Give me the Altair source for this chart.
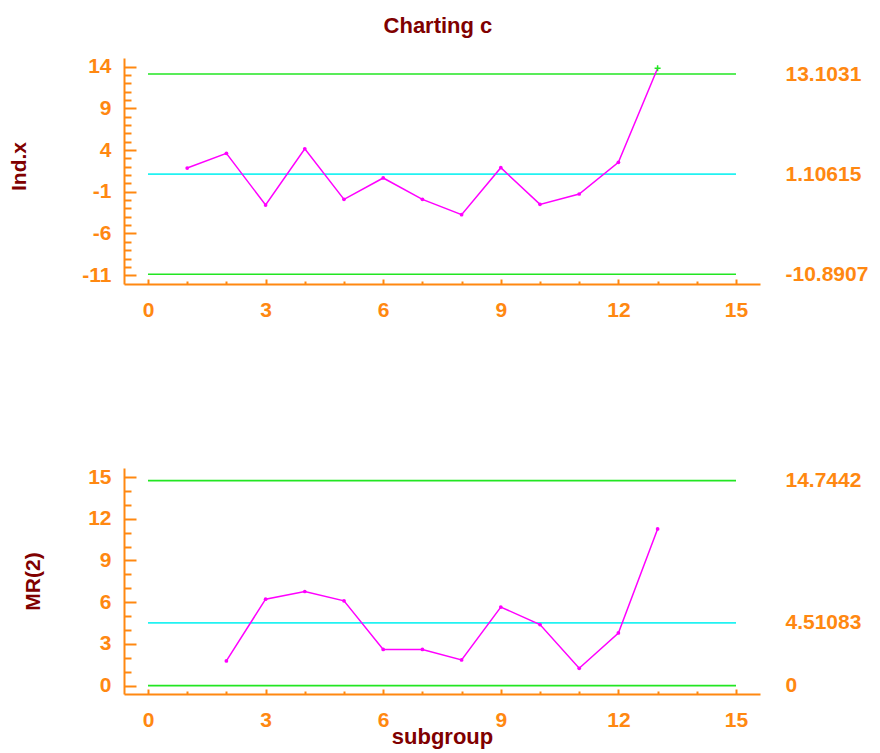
import altair as alt
import pandas as pd

# ---------------- data ----------------
ind_subgroups = list(range(1, 14))
ind_values = [1.84, 3.60, -2.59, 4.15, -1.91, 0.65, -1.91, -3.75, 1.88, -2.51, -1.27, 2.52, 13.79]

mr_subgroups = list(range(2, 14))
mr_values = [1.78, 6.22, 6.77, 6.10, 2.60, 2.60, 1.85, 5.65, 4.39, 1.25, 3.79, 11.27]

ind_limit_names = ["LCL", "CL", "UCL"]
ind_limit_values = [-10.8907, 1.10615, 13.1031]
mr_limit_names = ["LCL", "CL", "UCL"]
mr_limit_values = [0.0, 4.51083, 14.7442]
limit_kinds = ["limit", "center", "limit"]
line_start = 0
line_end = 15

x_major = [0, 3, 6, 9, 12, 15]
x_minor = [v for v in range(0, 16) if v not in x_major]
ind_major = [-11, -6, -1, 4, 9, 14]
ind_minor = [v for v in range(-10, 14) if v not in ind_major]
mr_major = [0, 3, 6, 9, 12, 15]
mr_minor = [v for v in range(0, 16) if v not in mr_major]

# ---------------- styles ----------------
ORANGE = "#FF8811"
DARKRED = "#800000"
GREEN = "#22E622"
CYAN = "#22F2F2"
MAGENTA = "#FF00FF"
FONT = "Liberation Sans"

INT_LABEL = "datum.value < 0 ? '-' + format(-datum.value, 'd') : format(datum.value, 'd')"
LIM_LABEL = "datum.value < 0 ? '-' + format(-datum.value, '.6') : format(datum.value, '.6')"


def make_points(xs, vals, ucl, lcl):
    return pd.DataFrame({
        "subgroup": xs,
        "value": vals,
        "ooc": [(v > ucl) or (v < lcl) for v in vals],
    })


def make_limits(names, vals):
    return pd.DataFrame({
        "name": names,
        "value": vals,
        "kind": limit_kinds,
        "x0": [line_start] * len(vals),
        "x1": [line_end] * len(vals),
    })


def panel(pts, lims, ydomain, ymajor, yminor, ytitle, title_x, title_y, xtitle, limit_vals):
    xs = alt.Scale(domain=[-0.612, 15.612], nice=False, zero=False)
    ys = alt.Scale(domain=ydomain, nice=False, zero=False)

    rules = alt.Chart(lims).mark_rule(strokeWidth=1.6).encode(
        x=alt.X("x0:Q", scale=xs, axis=alt.Axis(orient="bottom", ticks=False, labels=False,
                                                 domain=True, title=None, grid=False)),
        x2="x1:Q",
        y=alt.Y("value:Q", scale=ys, axis=alt.Axis(orient="left", ticks=False, labels=False,
                                                    domain=True, title=None, grid=False)),
        color=alt.Color("kind:N", scale=alt.Scale(domain=["limit", "center"], range=[GREEN, CYAN]),
                        legend=None),
    )

    x_axis_major = dict(orient="bottom", values=x_major, offset=-5, tickSize=5, domain=False,
                        labelPadding=15, grid=False)
    if xtitle:
        x_axis_major.update(title=xtitle, titleY=54, titleBaseline="alphabetic", titleFontSize=22)
    else:
        x_axis_major.update(title=None)

    line = alt.Chart(pts).mark_line(color=MAGENTA, strokeWidth=1.5).encode(
        x=alt.X("subgroup:Q", scale=xs, axis=alt.Axis(**x_axis_major)),
        y=alt.Y("value:Q", scale=ys, axis=alt.Axis(orient="left", values=ymajor, offset=-12, tickSize=12,
                                                    domain=False, labelPadding=13, grid=False,
                                                    labelExpr=INT_LABEL,
                                                    title=ytitle, titleX=title_x, titleY=title_y,
                                                    titleBaseline="middle", titleAngle=270)),
    )

    dots = alt.Chart(pts).transform_filter("!datum.ooc").mark_circle(color=MAGENTA, size=14, opacity=1).encode(
        x=alt.X("subgroup:Q", scale=xs, axis=alt.Axis(orient="bottom", values=x_minor, offset=-3, tickSize=3,
                                                       domain=False, labels=False, title=None, grid=False)),
        y=alt.Y("value:Q", scale=ys, axis=alt.Axis(orient="left", values=yminor, offset=-7, tickSize=7,
                                                    domain=False, labels=False, title=None, grid=False)),
    )

    ooc = alt.Chart(pts).transform_filter("datum.ooc").mark_point(
        shape="M-1,0H1M0,-1V1", size=36, strokeWidth=1.5, color=GREEN, filled=False, opacity=1
    ).encode(
        x=alt.X("subgroup:Q", scale=xs, axis=None),
        y=alt.Y("value:Q", scale=ys, axis=alt.Axis(orient="right", values=limit_vals, ticks=False, domain=False,
                                                    labelPadding=25, labelExpr=LIM_LABEL,
                                                    title=None, grid=False)),
    )

    return alt.layer(rules, line, dots, ooc).resolve_axis(x="independent", y="independent").properties(
        width=636, height=226
    )


ind_pts = make_points(ind_subgroups, ind_values, ind_limit_values[2], ind_limit_values[0])
mr_pts = make_points(mr_subgroups, mr_values, mr_limit_values[2], mr_limit_values[0])
ind_lims = make_limits(ind_limit_names, ind_limit_values)
mr_lims = make_limits(mr_limit_names, mr_limit_values)

top = panel(ind_pts, ind_lims, [-12.05, 15.02], ind_major, ind_minor, "Ind.x", -117, 108, None,
            ind_limit_values)
bottom = panel(mr_pts, mr_lims, [-0.6, 15.65], mr_major, mr_minor, "MR(2)", -103, 113, "subgroup",
               mr_limit_values)

chart = alt.vconcat(top, bottom, spacing=146).properties(
    title=alt.TitleParams("Charting c", font=FONT, fontSize=22, fontWeight="bold", color=DARKRED,
                          anchor="middle", offset=18),
    padding={"left": 0, "top": 6, "right": 0, "bottom": 4},
).configure_view(stroke=None).configure_axis(
    labelColor=ORANGE, labelFont=FONT, labelFontSize=21, labelFontWeight="bold",
    tickColor=ORANGE, tickWidth=2, domainColor=ORANGE, domainWidth=2,
    titleColor=DARKRED, titleFont=FONT, titleFontSize=21, titleFontWeight="bold",
)

chart.save("out.html", embed_options={"renderer": "svg", "actions": False})
